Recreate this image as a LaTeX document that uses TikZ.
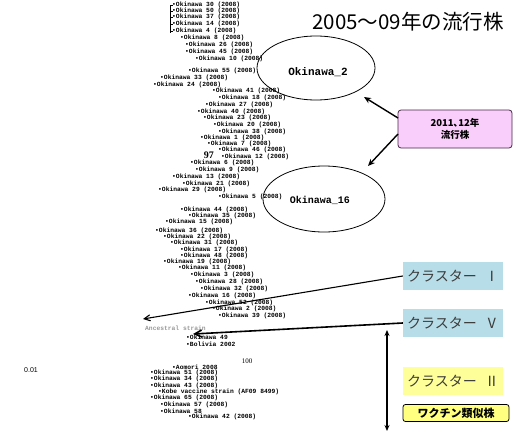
\documentclass[tikz,border=0pt]{standalone}
\usepackage{fontspec}
\setmainfont{Liberation Serif}
\newfontfamily\jp{Noto Sans CJK JP}
\newfontfamily\lab{Liberation Mono}
\newfontfamily\snum{Liberation Sans}
\usetikzlibrary{arrows.meta,shapes.geometric}
\definecolor{pinkfill}{RGB}{250,206,250}
\definecolor{pinkline}{RGB}{70,40,70}
\definecolor{bluefill}{RGB}{183,221,232}
\definecolor{yelfill}{RGB}{255,255,153}
\definecolor{vacfill}{RGB}{255,255,128}
\definecolor{jtext}{RGB}{60,60,60}
\tikzset{
  leaf/.style={anchor=west,inner sep=0pt,font=\lab\bfseries\fontsize{6.3}{6.3}\selectfont},
  grayleaf/.style={leaf,text=black!40},
  clbox/.style={minimum width=100pt,minimum height=28pt,inner sep=0pt,font=\jp\fontsize{14}{14}\selectfont,text=jtext},
  oval/.style={draw,ellipse,line width=0.8pt},
  okname/.style={font=\lab\bfseries\fontsize{11}{11}\selectfont,inner sep=0pt},
  pointer/.style={line width=1.4pt,-{Stealth[length=7pt,width=6pt]}},
}
\begin{document}
\begin{tikzpicture}[x=1pt,y=-1pt]
\useasboundingbox (0,0) rectangle (517,439);
\fill[white] (0,0) rectangle (517,439);

% title
\node[font=\jp\fontsize{20.5}{21}\selectfont,anchor=center] (title) at (408,22) {2005～09年の流行株};

% tree leaf labels
\foreach \yy/\xx/\tt [count=\i] in {
 5/172/Okinawa 30 (2008), 11/172/Okinawa 50 (2008), 17/172/Okinawa 37 (2008),
 24/172/Okinawa 14 (2008), 31/172/Okinawa 4 (2008), 38/180/Okinawa 8 (2008),
 45/185/Okinawa 26 (2008), 52/185/Okinawa 45 (2008), 59/195/Okinawa 10 (2008),
 71/188/Okinawa 55 (2008), 78/160/Okinawa 33 (2008), 85/153/Okinawa 24 (2008),
 91/212/Okinawa 41 (2008), 98/218/Okinawa 18 (2008), 105/205/Okinawa 27 (2008),
 112/197/Okinawa 40 (2008), 118/203/Okinawa 23 (2008), 125/213/Okinawa 20 (2008),
 132/218/Okinawa 38 (2008), 138/200/Okinawa 1 (2008), 144/207/Okinawa 7 (2008),
 150/218/Okinawa 46 (2008), 157/221/Okinawa 12 (2008), 163/190/Okinawa 6 (2008),
 170/195/Okinawa 9 (2008), 177/172/Okinawa 13 (2008), 184/182/Okinawa 21 (2008),
 190/158/Okinawa 29 (2008), 197/218/Okinawa 5 (2008), 210/180/Okinawa 44 (2008),
 216/188/Okinawa 35 (2008), 222/165/Okinawa 15 (2008), 231/155/Okinawa 36 (2008),
 237/163/Okinawa 22 (2008), 243/170/Okinawa 31 (2008), 250/180/Okinawa 17 (2008),
 256/180/Okinawa 48 (2008), 262/163/Okinawa 19 (2008), 268/178/Okinawa 11 (2008),
 275/190/Okinawa 3 (2008), 282/195/Okinawa 28 (2008), 289/200/Okinawa 32 (2008),
 296/188/Okinawa 16 (2008), 303/205/Okinawa 52 (2008), 309/212/Okinawa 2 (2008),
 316/218/Okinawa 39 (2008), 337/186/Okinawa 49, 344/186/Bolivia 2002,
 367/172/Aomori 2008, 373/150/Okinawa 51 (2008), 379/150/Okinawa 34 (2008),
 386/150/Okinawa 43 (2008), 392/158/Kobe vaccine strain (AF09 8499),
 398/150/Okinawa 65 (2008), 405/160/Okinawa 57 (2008), 411/160/Okinawa 58,
 417/188/Okinawa 42 (2008)}
 { \node[leaf] (leaf\i) at (\xx,\yy) {•\tt}; }

% small branch spine at top
\draw[line width=0.6pt] (170,5) -- (170,33);
\foreach \yy in {5,11,17,24,31}{ \draw[line width=0.6pt] (170,\yy) -- (173,\yy); }

\node[grayleaf] (anc) at (145,328) {Ancestral strain};
\node[font=\bfseries\fontsize{10}{10}\selectfont,inner sep=0pt,anchor=east] (boot97) at (214,155) {97};
\node[font=\fontsize{7}{7}\selectfont,inner sep=0pt] (boot100) at (247,361) {100};
\node[font=\snum\fontsize{7}{7}\selectfont,inner sep=0pt] (scale) at (31,370) {0.01};

% ellipses
\node[oval,minimum width=118pt,minimum height=64pt] (ok2) at (316,68) {};
\node[okname] (ok2t) at (318,72) {Okinawa\_2};
\node[oval,minimum width=122pt,minimum height=66pt] (ok16) at (324,199) {};
\node[okname,font=\lab\bfseries\fontsize{10}{10}\selectfont] (ok16t) at (320,200) {Okinawa\_16};

% pink box
\node[draw=pinkline,fill=pinkfill,rounded corners=3pt,line width=0.8pt,
      minimum width=114pt,minimum height=38pt,inner sep=0pt,align=center,
      font=\jp\bfseries\fontsize{9.5}{12}\selectfont] (newbox) at (455,129)
      {2011､12年\\流行株};
\coordinate (pa) at (398,118);
\coordinate (pb) at (398,134);
\draw[pointer] (pa) -- (364,97);
\draw[pointer] (pb) -- (368,166);

% cluster labels
\node[clbox,fill=bluefill] (c1) at (453,276) {クラスター\hspace{8pt}Ⅰ};
\node[clbox,fill=bluefill] (c5) at (453,323) {クラスター\hspace{8pt}Ⅴ};
\node[clbox,fill=yelfill] (c2) at (453,381) {クラスター\hspace{8pt}Ⅱ};
\node[draw,fill=vacfill,rounded corners=2.5pt,line width=0.8pt,minimum width=106pt,
      minimum height=17pt,inner sep=0pt,font=\jp\bfseries\fontsize{11}{11}\selectfont] (vac) at (456,413) {ワクチン類似株};

% cluster pointers
\coordinate (t1) at (143,319);
\coordinate (t5) at (193,334);
\draw[line width=1.1pt,-{Straight Barb[length=6pt,width=6pt]}] (c1.west) -- (t1);
\draw[line width=1.6pt,-{Straight Barb[length=7pt,width=7pt]}] (c5.west) -- (t5);

% double arrow
\coordinate (d1) at (387,330);
\coordinate (d2) at (387,431);
\draw[line width=1.3pt,{Stealth[length=6pt,width=5pt]}-{Stealth[length=6pt,width=5pt]}] (d1) -- (d2);
\end{tikzpicture}
\end{document}
